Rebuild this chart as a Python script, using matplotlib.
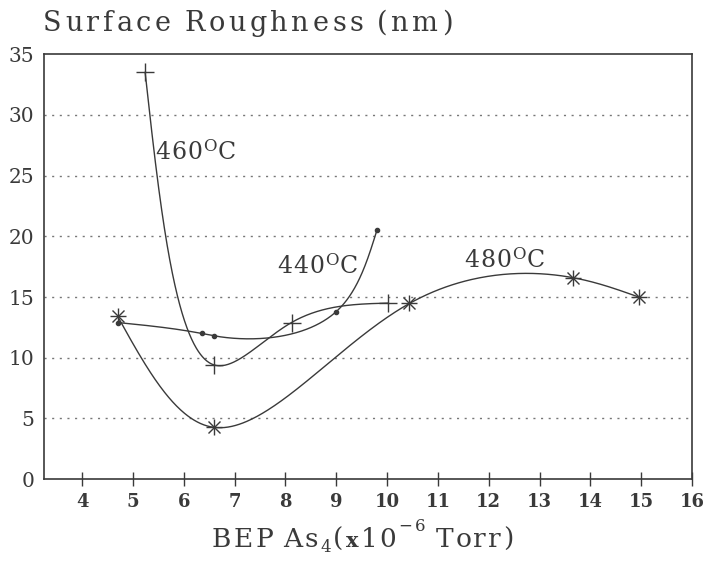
import numpy as np
import matplotlib
matplotlib.use("Agg")
import matplotlib.pyplot as plt

# Measured surface roughness vs. As4 beam equivalent pressure
bep_440 = [4.7, 6.35, 6.6, 9.0, 9.8]
rough_440 = [12.9, 12.0, 11.8, 13.8, 20.5]

bep_460 = [5.24, 6.6, 8.12, 10.02]
rough_460 = [33.5, 9.4, 12.9, 14.5]

bep_480 = [4.7, 6.6, 10.44, 13.65, 14.95]
rough_480 = [13.4, 4.26, 14.47, 16.6, 15.0]

x_ticks = [4, 5, 6, 7, 8, 9, 10, 11, 12, 13, 14, 15, 16]
y_ticks = [0, 5, 10, 15, 20, 25, 30, 35]

XLIM = (3.25, 16)
YLIM = (0, 35)


def natural_coeffs(t, v):
    k = len(t)
    h = np.diff(t)
    A = np.zeros((k, k))
    b = np.zeros(k)
    A[0, 0] = A[-1, -1] = 1.0
    for i in range(1, k - 1):
        A[i, i - 1] = h[i - 1]
        A[i, i] = 2 * (h[i - 1] + h[i])
        A[i, i + 1] = h[i]
        b[i] = 6 * ((v[i + 1] - v[i]) / h[i] - (v[i] - v[i - 1]) / h[i - 1])
    return np.linalg.solve(A, b)


def eval_spline(t, v, m, ts):
    k = len(t)
    idx = np.clip(np.searchsorted(t, ts) - 1, 0, k - 2)
    t0, t1 = t[idx], t[idx + 1]
    hh = t1 - t0
    a = t1 - ts
    c = ts - t0
    return (m[idx] * a ** 3 / (6 * hh) + m[idx + 1] * c ** 3 / (6 * hh)
            + (v[idx] / hh - m[idx] * hh / 6) * a
            + (v[idx + 1] / hh - m[idx + 1] * hh / 6) * c)


def smooth_curve(x, y, sx, sy, alpha=0.5, n=400):
    """Parametric natural cubic spline; knot spacing = (screen chord)**alpha."""
    x = np.asarray(x, float)
    y = np.asarray(y, float)
    px, py = x * sx, y * sy
    d = np.hypot(np.diff(px), np.diff(py)) ** alpha
    t = np.concatenate([[0.0], np.cumsum(d)])
    ts = np.linspace(0, t[-1], n)
    mx = natural_coeffs(t, px)
    my = natural_coeffs(t, py)
    return eval_spline(t, px, mx, ts) / sx, eval_spline(t, py, my, ts) / sy


def spaced_text(fig, x0, y0, parts, track, color):
    """Draw text glyph by glyph with extra letter spacing (pixels).
    parts: list of (string, fontsize, dy_pixels, weight)."""
    r = fig.canvas.get_renderer()
    W, H = fig.bbox.width, fig.bbox.height
    x = x0
    for s, fs, dy, wt in parts:
        for ch in s:
            t = fig.text(x / W, 1 - (y0 - dy) / H, ch, fontsize=fs,
                         family="DejaVu Serif", fontweight=wt, color=color,
                         ha="left", va="baseline")
            w = t.get_window_extent(renderer=r).width
            if ch == " ":
                w = fs * 0.32
            x += w + track
    return x


ink = "#3a3a3a"
serif = ["DejaVu Serif"]

fig = plt.figure(figsize=(7.04, 5.65), dpi=100)
ax_box = [0.0625, 0.152, 0.9205, 0.752]
ax = fig.add_axes(ax_box)

# pixel per data unit, used for the curve parameterisation
sx = ax_box[2] * 704 / (XLIM[1] - XLIM[0])
sy = ax_box[3] * 565 / (YLIM[1] - YLIM[0])

for bx, ry, al in [(bep_440, rough_440, 1.0), (bep_460, rough_460, 0.5),
                   (bep_480, rough_480, 0.75)]:
    xs, ys = smooth_curve(bx, ry, sx, sy, alpha=al)
    ax.plot(xs, ys, color=ink, lw=1.0)

ax.plot(bep_440, rough_440, ls="none", marker="o", ms=3, color=ink)
ax.plot(bep_460, rough_460, ls="none", marker="+", ms=13, mew=1.0, color=ink)
ax.plot(bep_480, rough_480, ls="none", marker="+", ms=12, mew=1.0, color=ink)
ax.plot(bep_480, rough_480, ls="none", marker="x", ms=9, mew=1.0, color=ink)

ax.set_xlim(*XLIM)
ax.set_ylim(*YLIM)

for yv in y_ticks[1:-1]:
    ax.axhline(yv, color="#777777", lw=1.0, ls=(0, (1.5, 4)), zorder=0)

ax.set_yticks(y_ticks)
ax.set_yticklabels([str(v) for v in y_ticks], fontsize=14.5, family=serif, color=ink)
ax.tick_params(axis="y", length=0, pad=7)

ax.set_xticks(x_ticks)
ax.set_xticklabels([str(v) for v in x_ticks], fontsize=13, family=serif,
                   fontweight="bold", color=ink)
ax.tick_params(axis="x", direction="inout", length=10, width=1.0, color=ink, pad=5)

for sp in ax.spines.values():
    sp.set_color(ink)
    sp.set_linewidth(1.2)


def to_px(xv, yv):
    X, Y = ax.transData.transform((xv, yv))
    return X, 565 - Y


# curve labels, anchored in data coordinates
for lx, ly, num in [(5.43, 26.4, "460"), (7.83, 17.0, "440"), (11.52, 17.5, "480")]:
    px, py = to_px(lx, ly)
    spaced_text(fig, px, py, [(num, 17, 0, "normal"), ("O", 12, 8, "normal"),
                              ("C", 17, 0, "normal")], 1.0, ink)

spaced_text(fig, 43, 31, [("Surface Roughness (nm)", 19.5, 0, "normal")], 3.6, ink)
spaced_text(fig, 212, 547, [("BEP As", 19, 0, "normal"), ("4", 12, -5, "normal"),
                            ("(", 19, 0, "normal"), ("x", 15, 0, "bold"),
                            ("10", 19, 0, "normal"), ("\u22126", 12, 16, "normal"),
                            (" Torr)", 19, 0, "normal")], 2.2, ink)

fig.savefig("out.png", dpi=100)
